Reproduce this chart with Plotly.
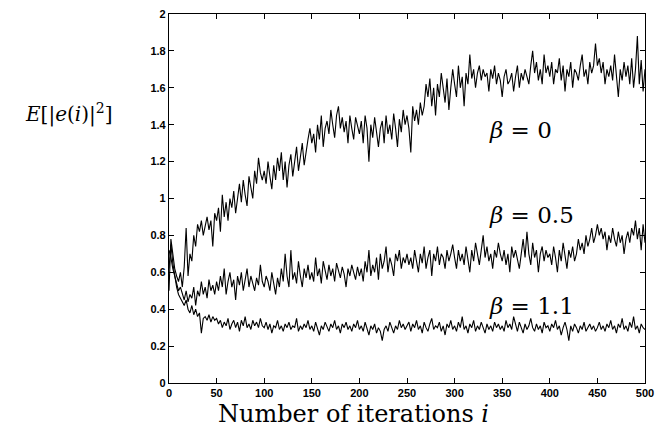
import plotly.graph_objects as go

beta0 = [
    0.50, 0.78, 0.70, 0.62, 0.58, 0.55, 0.60, 0.52, 0.63, 0.84, 0.58, 0.70, 0.66, 0.80, 0.74, 0.86, 0.82, 0.88, 0.80, 0.85, 0.90, 0.83, 0.88, 0.74, 0.92,
    0.88, 0.95, 0.82, 1.02, 0.90, 0.98, 0.88, 1.00, 0.95, 1.04, 0.92, 1.00, 1.08, 0.98, 1.10, 1.02, 0.96, 1.12, 1.05, 1.00, 1.15, 1.08, 1.22, 1.14, 1.10,
    1.15, 1.08, 1.20, 1.12, 1.05, 1.18, 1.10, 1.22, 1.15, 1.25, 1.10, 1.20, 1.06, 1.18, 1.24, 1.12, 1.20, 1.28, 1.15, 1.22, 1.30, 1.18, 1.26, 1.32, 1.38,
    1.30, 1.35, 1.25, 1.40, 1.32, 1.45, 1.28, 1.38, 1.42, 1.35, 1.48, 1.40, 1.33, 1.45, 1.50, 1.38, 1.44, 1.36, 1.42, 1.30, 1.45, 1.38, 1.32, 1.44, 1.40,
    1.35, 1.42, 1.30, 1.45, 1.38, 1.20, 1.40, 1.33, 1.44, 1.36, 1.28, 1.38, 1.42, 1.30, 1.45, 1.35, 1.40, 1.32, 1.46, 1.38, 1.28, 1.43, 1.36, 1.48, 1.40,
    1.45, 1.38, 1.25, 1.50, 1.42, 1.48, 1.40, 1.52, 1.45, 1.50, 1.62, 1.55, 1.65, 1.50, 1.60, 1.45, 1.62, 1.55, 1.68, 1.58, 1.52, 1.65, 1.48, 1.60, 1.70,
    1.62, 1.55, 1.72, 1.60, 1.66, 1.50, 1.68, 1.62, 1.78, 1.65, 1.70, 1.60, 1.68, 1.72, 1.64, 1.70, 1.66, 1.68, 1.58, 1.70, 1.65, 1.72, 1.62, 1.68, 1.64,
    1.55, 1.66, 1.70, 1.62, 1.64, 1.68, 1.58, 1.66, 1.72, 1.60, 1.68, 1.64, 1.70, 1.66, 1.62, 1.72, 1.80, 1.68, 1.74, 1.64, 1.70, 1.62, 1.78, 1.68, 1.72,
    1.66, 1.74, 1.62, 1.70, 1.68, 1.76, 1.64, 1.72, 1.58, 1.70, 1.66, 1.74, 1.60, 1.70, 1.68, 1.64, 1.72, 1.78, 1.66, 1.70, 1.62, 1.74, 1.68, 1.72, 1.84,
    1.72, 1.76, 1.68, 1.74, 1.62, 1.70, 1.66, 1.72, 1.64, 1.78, 1.68, 1.55, 1.70, 1.64, 1.74, 1.66, 1.72, 1.62, 1.76, 1.60, 1.70, 1.88, 1.62, 1.75, 1.58, 1.70,
]
beta05 = [
    0.72, 0.68, 0.62, 0.58, 0.55, 0.50, 0.52, 0.48, 0.45, 0.50, 0.44, 0.48, 0.46, 0.52, 0.42, 0.50, 0.47, 0.55, 0.48, 0.52, 0.46, 0.56, 0.50, 0.53, 0.48,
    0.55, 0.50, 0.58, 0.52, 0.62, 0.48, 0.55, 0.60, 0.52, 0.56, 0.45, 0.58, 0.53, 0.60, 0.50, 0.56, 0.62, 0.52, 0.58, 0.54, 0.50, 0.57, 0.53, 0.64, 0.55,
    0.52, 0.58, 0.55, 0.50, 0.60, 0.54, 0.48, 0.57, 0.52, 0.62, 0.55, 0.70, 0.58, 0.52, 0.72, 0.56, 0.60, 0.54, 0.66, 0.58, 0.52, 0.62, 0.57, 0.64, 0.56,
    0.60, 0.55, 0.68, 0.58, 0.62, 0.54, 0.66, 0.60, 0.56, 0.64, 0.58, 0.62, 0.55, 0.65, 0.60, 0.57, 0.63, 0.59, 0.52, 0.62, 0.58, 0.64, 0.60, 0.56, 0.63,
    0.58, 0.62, 0.55, 0.66, 0.60, 0.72, 0.58, 0.64, 0.60, 0.68, 0.56, 0.70, 0.62, 0.66, 0.74, 0.60, 0.68, 0.64, 0.58, 0.70, 0.66, 0.72, 0.62, 0.68, 0.65,
    0.70, 0.64, 0.68, 0.62, 0.72, 0.66, 0.60, 0.70, 0.65, 0.74, 0.62, 0.68, 0.72, 0.58, 0.70, 0.66, 0.74, 0.64, 0.70, 0.68, 0.62, 0.72, 0.66, 0.70, 0.75,
    0.68, 0.62, 0.72, 0.66, 0.70, 0.64, 0.74, 0.68, 0.60, 0.72, 0.66, 0.76, 0.70, 0.64, 0.72, 0.80, 0.68, 0.74, 0.66, 0.70, 0.62, 0.72, 0.68, 0.76, 0.70,
    0.66, 0.72, 0.64, 0.70, 0.60, 0.74, 0.68, 0.72, 0.66, 0.62, 0.70, 0.78, 0.68, 0.82, 0.70, 0.64, 0.76, 0.68, 0.72, 0.60, 0.70, 0.74, 0.66, 0.72, 0.68,
    0.70, 0.64, 0.74, 0.68, 0.60, 0.72, 0.66, 0.76, 0.70, 0.62, 0.72, 0.68, 0.74, 0.66, 0.70, 0.78, 0.72, 0.76, 0.70, 0.80, 0.74, 0.78, 0.84, 0.76, 0.80,
    0.86, 0.80, 0.84, 0.78, 0.82, 0.72, 0.80, 0.76, 0.84, 0.78, 0.74, 0.82, 0.76, 0.80, 0.70, 0.78, 0.82, 0.76, 0.84, 0.80, 0.88, 0.78, 0.84, 0.72, 0.86, 0.76,
]
beta11 = [
    0.62, 0.75, 0.65, 0.58, 0.52, 0.48, 0.46, 0.44, 0.42, 0.45, 0.40, 0.38, 0.42, 0.37, 0.40, 0.36, 0.38, 0.27, 0.35, 0.36, 0.34, 0.37, 0.33, 0.36, 0.34,
    0.35, 0.32, 0.34, 0.30, 0.33, 0.31, 0.35, 0.29, 0.32, 0.34, 0.30, 0.33, 0.28, 0.34, 0.31, 0.36, 0.30, 0.32, 0.29, 0.34, 0.31, 0.33, 0.30, 0.35, 0.31,
    0.30, 0.33, 0.29, 0.32, 0.27, 0.31, 0.30, 0.34, 0.29, 0.31, 0.28, 0.32, 0.30, 0.33, 0.29, 0.31, 0.30, 0.35, 0.28, 0.31, 0.29, 0.32, 0.30, 0.34, 0.29,
    0.31, 0.28, 0.33, 0.30, 0.26, 0.31, 0.29, 0.33, 0.30, 0.28, 0.32, 0.30, 0.34, 0.29, 0.31, 0.27, 0.32, 0.30, 0.33, 0.29, 0.31, 0.28, 0.32, 0.30, 0.34,
    0.29, 0.31, 0.28, 0.33, 0.30, 0.26, 0.31, 0.29, 0.32, 0.27, 0.30, 0.28, 0.23, 0.29, 0.31, 0.28, 0.33, 0.30, 0.27, 0.31, 0.29, 0.34, 0.30, 0.32, 0.29,
    0.31, 0.33, 0.28, 0.32, 0.30, 0.34, 0.29, 0.31, 0.27, 0.33, 0.30, 0.28, 0.32, 0.35, 0.29, 0.31, 0.30, 0.33, 0.28, 0.31, 0.26, 0.32, 0.30, 0.34, 0.29,
    0.31, 0.28, 0.33, 0.30, 0.36, 0.29, 0.31, 0.27, 0.32, 0.30, 0.34, 0.28, 0.31, 0.29, 0.33, 0.30, 0.27, 0.32, 0.29, 0.31, 0.28, 0.33, 0.30, 0.32, 0.29,
    0.31, 0.28, 0.34, 0.30, 0.32, 0.29, 0.36, 0.31, 0.28, 0.33, 0.30, 0.27, 0.32, 0.29, 0.31, 0.35, 0.30, 0.28, 0.32, 0.29, 0.31, 0.27, 0.33, 0.30, 0.31,
    0.28, 0.32, 0.30, 0.34, 0.29, 0.31, 0.26, 0.30, 0.33, 0.29, 0.23, 0.31, 0.28, 0.32, 0.30, 0.27, 0.31, 0.29, 0.33, 0.28, 0.30, 0.32, 0.29, 0.31, 0.28,
    0.30, 0.33, 0.29, 0.31, 0.28, 0.32, 0.30, 0.34, 0.29, 0.31, 0.27, 0.32, 0.30, 0.35, 0.29, 0.31, 0.28, 0.33, 0.30, 0.36, 0.29, 0.31, 0.27, 0.32, 0.30, 0.29,
]
step = 2
x_ticks = [0, 50, 100, 150, 200, 250, 300, 350, 400, 450, 500]
y_ticks = [0, 0.2, 0.4, 0.6, 0.8, 1, 1.2, 1.4, 1.6, 1.8, 2]
labels = ["<i>β</i> = 0", "<i>β</i> = 0.5", "<i>β</i> = 1.1"]
label_pos = [(334, 1.37), (334, 0.91), (334, 0.42)]

fig = go.Figure()
for ys in (beta0, beta05, beta11):
    xs = [step * k for k in range(len(ys))]
    fig.add_trace(go.Scatter(x=xs, y=ys, mode="lines",
                             line=dict(color="black", width=1.1),
                             showlegend=False, hoverinfo="skip"))

serif = "DejaVu Serif"
for txt, (lx, ly) in zip(labels, label_pos):
    fig.add_annotation(x=lx, y=ly, text=txt, showarrow=False, xanchor="left",
                       yanchor="middle", font=dict(family=serif, size=23, color="black"))

fig.add_annotation(xref="paper", yref="paper", x=-0.113, y=0.73,
                   text="<i>E</i>[|<i>e</i>(<i>i</i>)|<sup>2</sup>]", showarrow=False,
                   xanchor="right", yanchor="middle",
                   font=dict(family=serif, size=20, color="black"))
fig.add_annotation(xref="paper", yref="paper", x=0.387, y=-0.084,
                   text="Number of iterations <i>i</i>", showarrow=False,
                   xanchor="center", yanchor="middle",
                   font=dict(family=serif, size=24, color="black"))

axis_common = dict(showline=True, linecolor="black", linewidth=1.2, mirror="ticks",
                   ticks="inside", ticklen=5, tickcolor="black", showgrid=False,
                   zeroline=False, automargin=False, ticklabeloverflow="allow",
                   tickfont=dict(family="Liberation Sans", size=11, color="black"))
fig.update_xaxes(range=[0, 500], tickvals=x_ticks, ticktext=[f"<b>{t}</b>" for t in x_ticks],
                 ticklabelstandoff=0, **axis_common)
fig.update_yaxes(range=[0, 2], tickvals=y_ticks, ticktext=[f"<b>{t}</b>" for t in y_ticks],
                 ticklabelstandoff=0, **axis_common)
fig.update_layout(width=662, height=427, margin=dict(l=169, r=17, t=14, b=44),
                  plot_bgcolor="white", paper_bgcolor="white")
fig.write_html("out.html", config={"displayModeBar": False},
               post_script="document.body.style.margin='0';")
